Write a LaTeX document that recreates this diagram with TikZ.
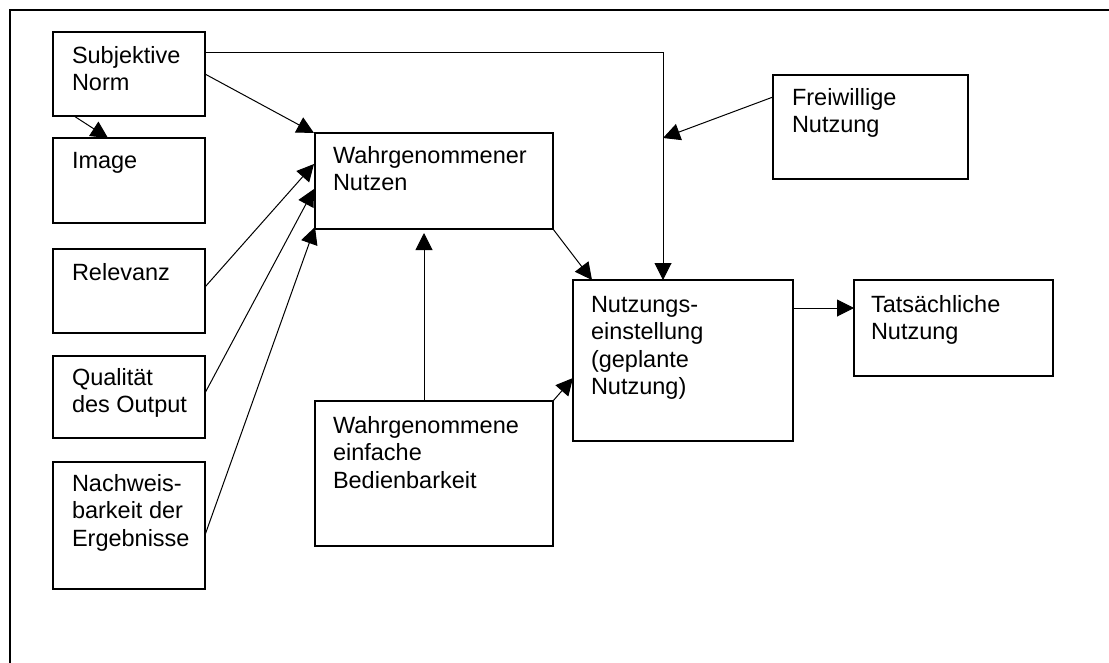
\documentclass[tikz,border=0pt]{standalone}
\usepackage{fontspec}
\setmainfont{Liberation Sans}
\usetikzlibrary{arrows.meta,calc}
\begin{document}
\begin{tikzpicture}[x=1pt,y=-1pt,
  box/.style={draw,line width=1.5pt,anchor=north west,inner sep=0pt,outer sep=0pt},
  lbl/.style={anchor=north west,inner sep=0pt,outer sep=0pt,align=left,
    font=\fontsize{23.5}{27.5}\selectfont},
  conn/.style={line width=1pt,-{Triangle[length=17pt,width=17pt]}}]
\useasboundingbox (0,0) rectangle (1109,662);
\fill[white] (0,0) rectangle (1109,662);
\draw[line width=2pt] (10,664) -- (10,10) -- (1111,10);

% boxes
\node[box,minimum width=152pt,minimum height=84pt] (sn) at (53,32) {};
\node[box,minimum width=152pt,minimum height=85pt] (img) at (53,138) {};
\node[box,minimum width=152pt,minimum height=84pt] (rel) at (53,249) {};
\node[box,minimum width=152pt,minimum height=82pt] (qual) at (53,356) {};
\node[box,minimum width=152pt,minimum height=127pt] (nach) at (53,462) {};
\node[box,minimum width=238pt,minimum height=96pt] (wn) at (315,133) {};
\node[box,minimum width=220pt,minimum height=161pt] (ne) at (573,280) {};
\node[box,minimum width=199pt,minimum height=96pt] (tn) at (854,280) {};
\node[box,minimum width=195pt,minimum height=104pt] (fn) at (773,75) {};
\node[box,minimum width=238pt,minimum height=145pt] (web) at (315,401) {};

% labels
\node[lbl] (snt) at ($(sn.north west)+(19,12)$) {\strut Subjektive\\Norm};
\node[lbl] (imgt) at ($(img.north west)+(19,11)$) {\strut Image};
\node[lbl] (relt) at ($(rel.north west)+(19,12)$) {\strut Relevanz};
\node[lbl] (qualt) at ($(qual.north west)+(19,10)$) {\strut Qualität\\des Output};
\node[lbl] (nacht) at ($(nach.north west)+(19,10)$) {\strut Nachweis-\\barkeit der\\Ergebnisse};
\node[lbl] (wnt) at ($(wn.north west)+(18,11)$) {\strut Wahrgenommener\\Nutzen};
\node[lbl] (net) at ($(ne.north west)+(18,13)$) {\strut Nutzungs-\\einstellung\\(geplante\\Nutzung)};
\node[lbl] (tnt) at ($(tn.north west)+(17,13)$) {\strut Tatsächliche\\Nutzung};
\node[lbl] (fnt) at ($(fn.north west)+(19,11)$) {\strut Freiwillige\\Nutzung};
\node[lbl] (webt) at ($(web.north west)+(18,13)$) {\strut Wahrgenommene\\einfache\\Bedienbarkeit};

% connectors
\coordinate (join) at ($(ne.north west)+(90,-142)$);
\draw[conn] ($(sn.south west)+(21,0)$) -- ($(img.north west)+(55,0)$);
\draw[conn] ($(sn.north east)+(0,42)$) -- ($(wn.north west)+(-1,0)$);
\draw[conn] ($(sn.north east)+(0,20)$) -| ($(ne.north west)+(90,0)$);
\draw[conn] ($(fn.north west)+(0,22)$) -- (join);
\draw[conn] ($(rel.north east)+(0,38)$) -- ($(wn.north west)+(-1,31)$);
\draw[conn] ($(qual.north east)+(0,37)$) -- ($(wn.north west)+(-1,56)$);
\draw[conn] ($(nach.north east)+(0,73)$) -- ($(wn.north west)+(0,94)$);
\draw[conn] (wn.south east) -- ($(ne.north west)+(19,0)$);
\draw[conn] ($(web.north west)+(109,0)$) -- ($(wn.south west)+(109,4)$);
\draw[conn] (web.north east) -- ($(ne.north west)+(0,98)$);
\draw[conn] ($(ne.north east)+(0,28)$) -- ($(tn.north west)+(0,28)$);
\end{tikzpicture}
\end{document}
